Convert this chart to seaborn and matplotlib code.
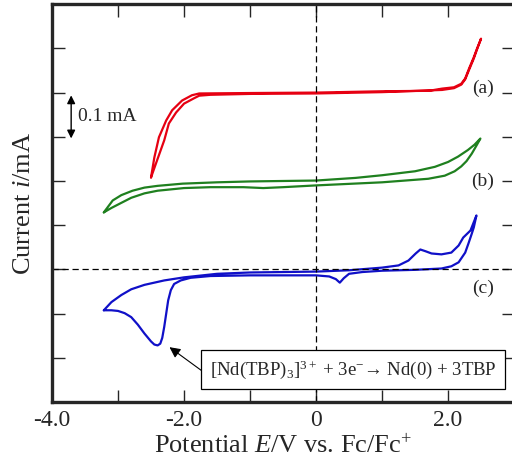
import matplotlib
matplotlib.use('Agg')
import matplotlib.pyplot as plt
import seaborn as sns
import pandas as pd

# cyclic voltammograms, (a) and (b) are offset upwards for clarity
red_E = [-2.5, -2.45, -2.38, -2.27, -2.18, -2.03, -1.88, -1.77, -1.0, 0.0, 1.0, 1.71, 1.91, 2.09, 2.2, 2.26, 2.32, 2.39, 2.44, 2.5,
         2.44, 2.39, 2.32, 2.26, 2.2, 2.09, 1.91, 1.0, 0.0, -1.0, -1.6, -1.77, -1.85, -2.0, -2.12, -2.23, -2.3, -2.41, -2.5]
red_i = [0.208, 0.253, 0.299, 0.337, 0.360, 0.382, 0.394, 0.398, 0.399, 0.400, 0.403, 0.404, 0.409, 0.412, 0.420, 0.432, 0.455, 0.480, 0.500, 0.522,
         0.498, 0.477, 0.452, 0.430, 0.418, 0.410, 0.406, 0.401, 0.398, 0.397, 0.395, 0.393, 0.387, 0.375, 0.355, 0.330, 0.292, 0.246, 0.208]

green_E = [-3.215, -3.15, -3.08, -2.95, -2.78, -2.6, -2.4, -2.02, -1.5, -1.0, 0.0, 0.6, 1.0, 1.5, 1.8, 2.0, 2.15, 2.3, 2.4, 2.49,
           2.43, 2.36, 2.28, 2.2, 2.1, 1.95, 1.7, 1.0, 0.0, -0.5, -0.8, -1.1, -1.6, -2.0, -2.4, -2.6, -2.8, -2.97, -3.1, -3.215]
green_i = [0.129, 0.142, 0.156, 0.168, 0.178, 0.185, 0.189, 0.194, 0.197, 0.199, 0.201, 0.207, 0.213, 0.222, 0.232, 0.243, 0.255, 0.270, 0.282, 0.296,
           0.280, 0.262, 0.245, 0.233, 0.222, 0.212, 0.205, 0.197, 0.190, 0.186, 0.184, 0.186, 0.186, 0.184, 0.178, 0.172, 0.162, 0.149, 0.139, 0.129]

blue_E = [-3.215, -3.1, -3.0, -2.9, -2.8, -2.7, -2.6, -2.5, -2.45, -2.4, -2.36, -2.33, -2.3, -2.27, -2.24, -2.2, -2.15, -2.05, -1.9, -1.6, -1.0, 0.0,
          0.2, 0.3, 0.36, 0.42, 0.5, 0.7, 1.0, 1.5, 1.9, 2.05, 2.16, 2.26, 2.31, 2.36, 2.39, 2.43,
          2.34, 2.23, 2.16, 2.05, 1.9, 1.75, 1.66, 1.58, 1.51, 1.4, 1.25, 1.0, 0.5, 0.0, -1.0, -1.5, -2.0, -2.3, -2.6, -2.8, -2.95, -3.1, -3.215]
blue_i = [-0.0925, -0.0925, -0.094, -0.099, -0.108, -0.125, -0.145, -0.163, -0.170, -0.172, -0.168, -0.155, -0.130, -0.100, -0.070, -0.047, -0.033, -0.025, -0.019, -0.015, -0.0135, -0.0135,
          -0.016, -0.022, -0.030, -0.020, -0.010, -0.006, -0.003, -0.001, 0.002, 0.007, 0.016, 0.038, 0.059, 0.081, 0.095, 0.122,
          0.088, 0.072, 0.054, 0.038, 0.034, 0.036, 0.041, 0.045, 0.036, 0.020, 0.009, 0.004, -0.002, -0.005, -0.007, -0.010, -0.018, -0.025, -0.035, -0.045, -0.058, -0.074, -0.0925]

curve_labels = ['(a)', '(b)', '(c)']
label_i = [0.41, 0.2, -0.043]

sns.set_style('ticks')
plt.rcParams['font.family'] = ['Liberation Serif', 'DejaVu Serif']
plt.rcParams['mathtext.fontset'] = 'custom'
plt.rcParams['mathtext.rm'] = 'Liberation Serif'
plt.rcParams['mathtext.it'] = 'Liberation Serif:italic'

fig = plt.figure(figsize=(5.12, 4.65), dpi=100)
ax = fig.add_axes([0.1016, 0.1355, 0.9024, 0.8555])

for E, i, c in [(red_E, red_i, '#e60012'), (green_E, green_i, '#1f801f'), (blue_E, blue_i, '#1010c8')]:
    df = pd.DataFrame({'E': E, 'i': i})
    sns.lineplot(data=df, x='E', y='i', sort=False, estimator=None, color=c, lw=1.6, ax=ax)

ax.axhline(0, color='black', ls='--', lw=0.9, dashes=(5, 3))
ax.axvline(0, color='black', ls='--', lw=0.9, dashes=(5, 3))

ax.set_xlim(-4.0, 3.0)
ax.set_ylim(-0.3, 0.6)
ax.set_xticks([-4, -2, 0, 2])
ax.set_xticklabels(['-4.0', '-2.0', '0', '2.0'])
ax.set_xticks([-3, -1, 1], minor=True)
ax.set_yticks([-0.2, -0.1, 0, 0.1, 0.2, 0.3, 0.4, 0.5])
ax.set_yticklabels([])
ax.tick_params(which='both', direction='in', top=True, right=True, length=9, width=1.0, labelsize=17, pad=6)
for s in ax.spines.values():
    s.set_linewidth(2.4)

ax.set_xlabel(r'Potential $\mathit{E}$/V vs. Fc/Fc$^{+}$', fontsize=19, labelpad=2)
ax.set_ylabel(r'Current $\mathit{i}$/mA', fontsize=19, labelpad=6)

for lab, y in zip(curve_labels, label_i):
    ax.text(2.53, y, lab, fontsize=14, ha='center', va='center')

# scale bar
ax.annotate('', xy=(-3.71, 0.29), xytext=(-3.71, 0.4),
            arrowprops=dict(arrowstyle='<|-|>', color='black', lw=1.0, mutation_scale=12))
ax.text(-3.6, 0.345, '0.1 mA', fontsize=14, ha='left', va='center')

ax.annotate('', xy=(-2.22, -0.176), xytext=(-1.67, -0.236),
            arrowprops=dict(arrowstyle='-|>', color='black', lw=0.8, mutation_scale=16, shrinkA=0, shrinkB=0))
ax.text(0.56, -0.227, r'[Nd(TBP)$_3$]$^{3+}$ + 3e$^{-}$→ Nd(0) + 3TBP', fontsize=13.5, ha='center', va='center',
        bbox=dict(boxstyle='square,pad=0.45', fc='white', ec='black', lw=0.9))

fig.savefig('out.png', dpi=100)
